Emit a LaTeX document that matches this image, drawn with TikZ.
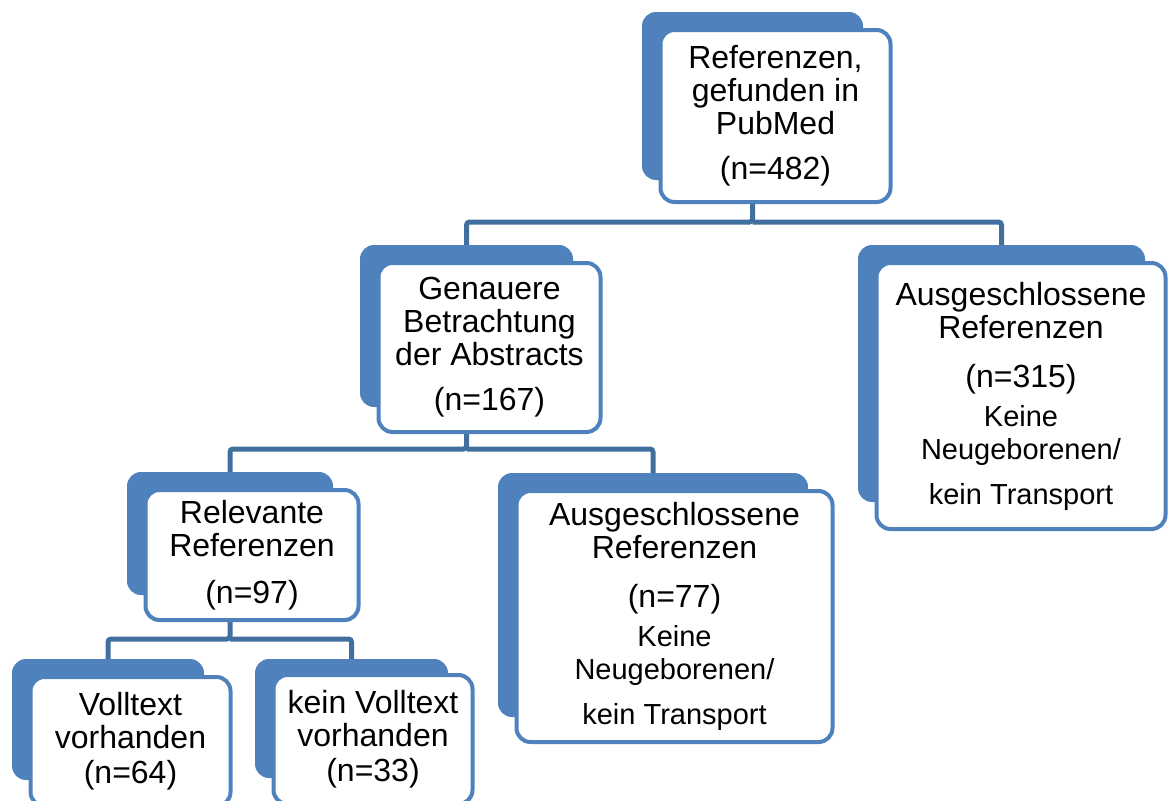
\documentclass[tikz,border=0pt]{standalone}
\usepackage{fontspec}
\setmainfont{Liberation Sans}
\usetikzlibrary{positioning}

\definecolor{boxblue}{HTML}{4F81BD}
\definecolor{linkblue}{HTML}{41709F}
\newcommand{\subtext}[1]{{\fontsize{14.5}{15}\selectfont #1}}

\begin{document}
\begin{tikzpicture}[x=0.5pt,y=-0.5pt,
    back node/.style={rectangle,rounded corners=7pt,fill=boxblue,
      inner sep=0pt,outer sep=0pt},
    front node/.style={rectangle,rounded corners=7pt,draw=boxblue,fill=white,
      line width=2pt,align=center,inner sep=0pt,outer sep=0pt,
      font=\fontsize{16}{16.5}\selectfont},
    link/.style={draw=linkblue,line width=2.5pt,rounded corners=1.5pt}]

  \useasboundingbox (0,0) rectangle (1169,800);

  %% back boxes
  \node[back node,minimum width=110.5pt,minimum height=84pt] (B1) at (752.5,96) {};
  \node[back node,minimum width=106.5pt,minimum height=81pt] (B2) at (466.5,326) {};
  \node[back node,minimum width=143.5pt,minimum height=128.5pt] (B3) at (1001.5,373.5) {};
  \node[back node,minimum width=103pt,minimum height=61.5pt] (B4) at (230,533.5) {};
  \node[back node,minimum width=155pt,minimum height=122pt] (B5) at (653,595) {};
  \node[back node,minimum width=96pt,minimum height=60.5pt] (B6) at (108,719.5) {};
  \node[back node,minimum width=96.5pt,minimum height=59.5pt] (B7) at (351.5,718.5) {};

  %% connectors
  \coordinate (J1) at ([yshift=-21pt]B1.south);
  \coordinate (J2) at ([yshift=-21pt]B2.south);
  \coordinate (J3) at ([yshift=-22pt]B4.south);
  \draw[link] (B1.south) -- (J1) -| (B2.north);
  \draw[link] (J1) -| (B3.north);
  \draw[link] (B2.south) -- (J2) -| (B4.north);
  \draw[link] (J2) -| (B5.north);
  \draw[link] (B4.south) -- (J3) -| (B6.north);
  \draw[link] (J3) -| (B7.north);

  %% front boxes
  \node[front node,minimum width=115pt,minimum height=86pt,
    below right=9pt and 9.25pt of B1.north west] (F1)
    {Referenzen,\\gefunden in\\PubMed\\[6pt](n=482)};
  \node[front node,minimum width=111pt,minimum height=84.5pt,
    below right=9pt and 9.25pt of B2.north west] (F2)
    {Genauere\\Betrachtung\\der Abstracts\\[6pt](n=167)};
  \node[front node,minimum width=144.5pt,minimum height=133pt,
    below right=9pt and 9.25pt of B3.north west] (F3)
    {Ausgeschlossene\\Referenzen\\[8pt](n=315)\\[3pt]\subtext{Keine}\\
     \subtext{Neugeborenen/}\\[6pt]\subtext{kein Transport}};
  \node[front node,minimum width=106.5pt,minimum height=65pt,
    below right=9pt and 9.25pt of B4.north west] (F4)
    {Relevante\\Referenzen\\[7pt](n=97)};
  \node[front node,minimum width=158pt,minimum height=125.5pt,
    below right=9pt and 9.25pt of B5.north west] (F5)
    {Ausgeschlossene\\Referenzen\\[8pt](n=77)\\[3pt]\subtext{Keine}\\
     \subtext{Neugeborenen/}\\[6pt]\subtext{kein Transport}};
  \node[front node,minimum width=100pt,minimum height=64.5pt,
    below right=9pt and 9.25pt of B6.north west] (F6)
    {Volltext\\vorhanden\\[1pt](n=64)};
  \node[front node,minimum width=99.5pt,minimum height=64.5pt,
    below right=8pt and 9.25pt of B7.north west] (F7)
    {kein Volltext\\vorhanden\\[1pt](n=33)};
\end{tikzpicture}
\end{document}
